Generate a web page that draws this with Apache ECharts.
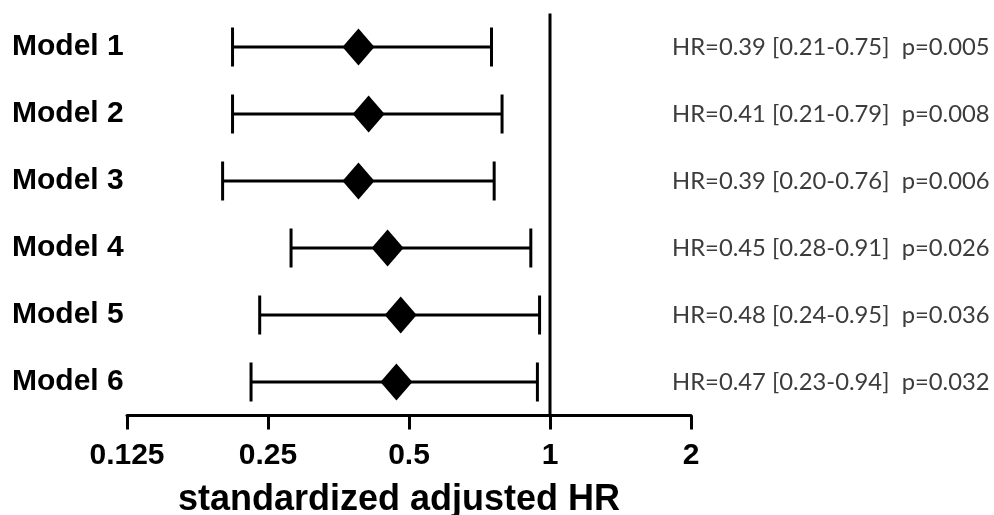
<!DOCTYPE html>
<html><head><meta charset="utf-8">
<script src="https://cdn.jsdelivr.net/npm/echarts@6/dist/echarts.min.js"></script>
<style>html,body{margin:0;padding:0;background:#fff}#c{width:994px;height:515px}</style>
</head><body><div id="c"></div>
<script>
const categories = ['Model 1','Model 2','Model 3','Model 4','Model 5','Model 6'];
const hr   = [0.39, 0.41, 0.39, 0.45, 0.48, 0.47];
const lo   = [0.21, 0.21, 0.20, 0.28, 0.24, 0.23];
const hi   = [0.75, 0.79, 0.76, 0.91, 0.95, 0.94];
const pval = ['0.005','0.008','0.006','0.026','0.036','0.032'];
const xTicks = [0.125, 0.25, 0.5, 1, 2];
const refValue = 1;

const fmt2 = v => v.toFixed(2);
const annot = categories.map((c,i)=>'HR=' + fmt2(hr[i]) + ' [' + fmt2(lo[i]) + '-' + fmt2(hi[i]) + ']  p=' + pval[i]);

const chart = echarts.init(document.getElementById('c'));
const BOLD = 'Liberation Sans';
chart.setOption({
  backgroundColor: '#fff',
  animation: false,
  grid: {left: 127, right: 303, top: 13.5, bottom: 99.5, containLabel: false, outerBoundsMode: 'none'},
  xAxis: {
    type: 'log', logBase: 2, min: xTicks[0], max: xTicks[xTicks.length-1],
    axisLine: {show: true, lineStyle: {color: '#000', width: 3}},
    axisTick: {show: true, length: 14, lineStyle: {color: '#000', width: 3}},
    splitLine: {show: false},
    minorTick: {show: false},
    axisLabel: {color: '#000', fontFamily: BOLD, fontWeight: 'bold', fontSize: 30, margin: 25,
      formatter: v => String(+(+v).toFixed(3))},
    name: 'standardized adjusted HR', nameLocation: 'middle', nameGap: 67,
    nameTextStyle: {color: '#000', fontFamily: BOLD, fontWeight: 'bold', fontSize: 36, padding: [0, 20, 0, 0]}
  },
  yAxis: [{
    type: 'category', data: categories, inverse: true,
    axisLine: {show: false}, axisTick: {show: false}, splitLine: {show: false},
    axisLabel: {color: '#000', fontFamily: BOLD, fontWeight: 'bold', fontSize: 30, align: 'left', margin: 115}
  },{
    type: 'category', data: annot, inverse: true, position: 'right',
    axisLine: {show: false}, axisTick: {show: false}, splitLine: {show: false},
    axisLabel: {color: '#3c3c3c', fontFamily: 'Lato', fontSize: 23.8, align: 'left', margin: -19}
  },{
    type: 'value', min: 0, max: 1, show: false
  }],
  series: [{
    type: 'line',
    yAxisIndex: 2,
    data: [[refValue, 0], [refValue, 1]],
    showSymbol: false, symbol: 'none',
    lineStyle: {color: '#000', width: 3},
    z: 1, silent: true
  },{
    type: 'custom',
    yAxisIndex: 0,
    data: categories.map((c,i)=>[lo[i], hi[i], i]),
    encode: {x: [0,1], y: 2},
    renderItem: function(params, api){
      const i = api.value(2);
      const p1 = api.coord([api.value(0), i]);
      const p2 = api.coord([api.value(1), i]);
      const h = 19.5;
      const st = {stroke: '#000', lineWidth: 3, fill: null};
      return {type: 'group', children: [
        {type: 'line', shape: {x1: p1[0], y1: p1[1], x2: p2[0], y2: p2[1]}, style: st},
        {type: 'line', shape: {x1: p1[0], y1: p1[1]-h, x2: p1[0], y2: p1[1]+h}, style: st},
        {type: 'line', shape: {x1: p2[0], y1: p2[1]-h, x2: p2[0], y2: p2[1]+h}, style: st}
      ]};
    },
    z: 2
  },{
    type: 'scatter',
    yAxisIndex: 0,
    data: categories.map((c,i)=>[hr[i], i]),
    symbol: 'diamond', symbolSize: [32, 37],
    itemStyle: {color: '#000', opacity: 1},
    z: 3
  }]
});
</script></body></html>
